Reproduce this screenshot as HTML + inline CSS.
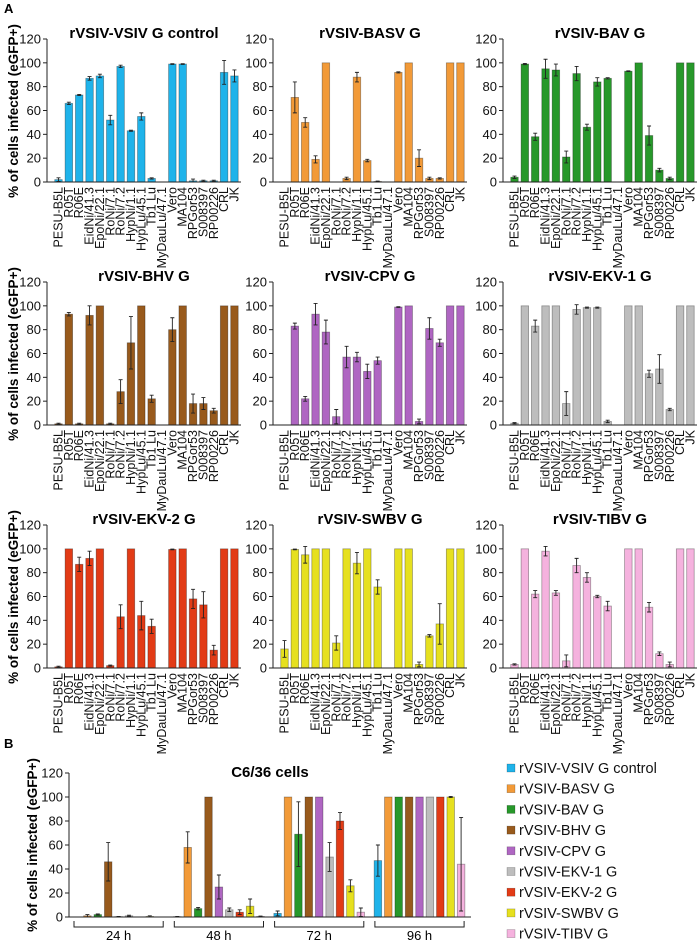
<!DOCTYPE html>
<html><head><meta charset="utf-8"><style>
body{margin:0;background:#fff;}
svg{display:block;font-family:"Liberation Sans",Arial,sans-serif;}
</style></head><body>
<svg id="fig" width="700" height="941" viewBox="0 0 700 941"></svg>
<script>
const categories=["PESU-B5L","R05T","R06E","EidNi/41.3","EpoNi/22.1","RoNi/7.1","RoNi/7.2","HypNi/1.1","HypLu/45.1","Tb1 Lu","MyDauLu/47.1","Vero","MA104","RPGor53","S008397","RP00226","CRL","JK"];
const seriesNames=["rVSIV-VSIV G control","rVSIV-BASV G","rVSIV-BAV G","rVSIV-BHV G","rVSIV-CPV G","rVSIV-EKV-1 G","rVSIV-EKV-2 G","rVSIV-SWBV G","rVSIV-TIBV G"];
const colors=["#1fb3ea","#f29a38","#27982a","#985a1c","#af66c2","#bdbdbd","#e23b16","#e6e01f","#f5b2de"];
const yTicks=[0,20,40,60,80,100,120];
const vsivVals=[2,66,73,87,89,52,97,43,55,3,0,99,99,1,1,1,92,89];
const vsivErr=[1.5,1,0.5,1.5,1.5,4,1,0.5,3,0.5,0,0.3,0.3,1.5,0.5,0.5,10,5];
const basvVals=[0,71,50,19,100,0,3,88,18,0.5,0,92,100,20,3,3,100,100];
const basvErr=[0,13,4,3,0,0,1,4,1,0.3,0,0.5,0,7,1,0.5,0,0];
const bavVals=[4,99,38,95,94,21,91,46,84,87,0,93,100,39,10,3,100,100];
const bavErr=[1,0.5,3,8,5,5,6,2.5,3.5,0.5,0,0.3,0,8,1.5,1,0,0];
const bhvVals=[1,93,1,92,100,1,28,69,100,22,0,80,100,18,18,12,100,100];
const bhvErr=[0.5,1.5,0.5,8,0,0.5,10,22,0,3,0,10,0,8,5,2,0,0];
const cpvVals=[0,83,22,93,78,7,57,57,45,54,0,99,100,3,81,69,100,100];
const cpvErr=[0,2.5,2,9,10,6,9,4,6,3,0,0.3,0,2,9,3,0,0];
const ekv1Vals=[1.5,100,83,100,100,18,97,98.5,98.5,3,0,100,100,43,47,13,100,100];
const ekv1Err=[0.5,0,5,0,0,10,4,0.5,0.5,1,0,0,0,3,12,1,0,0];
const ekv2Vals=[1,100,87,92,100,2,43,100,44,35,0,99.5,100,58,53,15,100,100];
const ekv2Err=[0.5,0,6,6,0,0.5,10,0,12,6,0,0.3,0,8,11,4,0,0];
const swbvVals=[16,99.5,95,100,100,21,100,88,100,68,0,100,100,3,27,37,100,100];
const swbvErr=[7,0.3,7,0,0,6,0,9,0,6,0,0,0,2,1,17,0,0];
const tibvVals=[3,100,62,98,63,6,86,76,60,52,0,100,100,51,12,3,100,100];
const tibvErr=[0.5,0,3,4,2,5,6,4,1,4,0,0,0,4,1.5,2,0,0];
const timeLabels=["24 h","48 h","72 h","96 h"];
const c636Vals=[[0,1,2,46,0.3,1,0,0.5,0],[0.3,58,7,100,25,6,4,9,0.5],[3,100,69,100,100,50,80,26,4],[47,100,100,100,100,100,100,100,44]];
const c636Err=[[0,1,0.5,16,0.2,0.5,0,0.5,0],[0.2,13,1,0,10,1.5,2,6,0.3],[2,0,27,0,0,12,7,5,3.5],[13,0,0,0,0,0,0,0.5,39]];

const NS="http://www.w3.org/2000/svg";
const svg=document.getElementById('fig');
function mk(tag,attrs,parent){const e=document.createElementNS(NS,tag);for(const k in attrs)e.setAttribute(k,attrs[k]);(parent||svg).appendChild(e);return e;}
function txt(s,attrs,parent){const e=mk('text',attrs,parent);e.textContent=s;return e;}

const panelVals=[vsivVals,basvVals,bavVals,bhvVals,cpvVals,ekv1Vals,ekv2Vals,swbvVals,tibvVals];
const panelErr=[vsivErr,basvErr,bavErr,bhvErr,cpvErr,ekv1Err,ekv2Err,swbvErr,tibvErr];
const axisXs=[47,273,503];
const zeroYs=[182,425,668];
const panelTitles=["rVSIV-VSIV G control","rVSIV-BASV G","rVSIV-BAV G","rVSIV-BHV G","rVSIV-CPV G","rVSIV-EKV-1 G","rVSIV-EKV-2 G","rVSIV-SWBV G","rVSIV-TIBV G"];

const la=txt('A',{x:4,y:13,'font-size':13,'font-weight':'bold'});



function drawYAxis(g,ax,y0,span){
  const yAx=v=>y0-v/120*span;
  mk('line',{x1:ax,y1:yAx(120),x2:ax,y2:y0,stroke:'#222','stroke-width':1},g);
  yTicks.forEach(t=>{
    mk('line',{x1:ax-4,y1:yAx(t),x2:ax,y2:yAx(t),stroke:'#222','stroke-width':1},g);
    const tl=txt(String(t),{x:ax-6,y:yAx(t)+4.5,'font-size':13,'text-anchor':'end',fill:'#111'},g);
    
    
  });
  return yAx;
}
function drawBar(g,cx,v,e,yAx,y0,color,w){
  const b=mk('rect',{x:cx-w/2,y:yAx(v),width:w,height:Math.max(0,y0-yAx(v)),fill:color,stroke:'rgba(0,0,0,0.35)','stroke-width':0.8},g);
  
  
  if(e>0){
    const eb=mk('path',{d:`M${cx},${yAx(v+e)}V${yAx(Math.max(0,v-e))}M${cx-2},${yAx(v+e)}H${cx+2}M${cx-2},${yAx(Math.max(0,v-e))}H${cx+2}`,stroke:'#222','stroke-width':0.9,fill:'none'},g);
    
    
  }
}

for(let p=0;p<9;p++){
  const ax=axisXs[p%3], y0=zeroYs[Math.floor(p/3)], span=143;
  const g=mk('g',{});
  
  
  const yAx=drawYAxis(g,ax,y0,span);
  const xAx=i=>ax+11.5+i*10.35;
  const t=txt(panelTitles[p],{x:ax+97,y:y0-span-1,'font-size':15,'font-weight':'bold','text-anchor':'middle'},g);
  
  
  panelVals[p].forEach((v,i)=>drawBar(g,xAx(i),v,panelErr[p][i],yAx,y0,colors[p],7.5));
  mk('line',{x1:ax,y1:y0,x2:ax+194,y2:y0,stroke:'#222','stroke-width':1},g);
  categories.forEach((c,i)=>{
    const x=xAx(i)+4, y=y0+5;
    const cl=txt(c,{x:x,y:y,'font-size':12.5,'text-anchor':'end',transform:`rotate(-90 ${x} ${y})`,fill:'#111'},g);
    
    
  });
  if(p%3===0){
    const cy=y0-71;
    const yt=txt('% of cells infected (eGFP+)',{x:18,y:cy,'font-size':13.5,'font-weight':'bold','text-anchor':'middle',transform:`rotate(-90 18 ${cy})`},g);
    
    
  }
}

/* Panel B */
const lb=txt('B',{x:4,y:748,'font-size':13,'font-weight':'bold'});


const gB=mk('g',{});


const bAx=69,bY0=917,bSpan=144;
const byAx=drawYAxis(gB,bAx,bY0,bSpan);
const bt=txt('C6/36 cells',{x:270,y:777,'font-size':15,'font-weight':'bold','text-anchor':'middle'},gB);


const bxAx=(gi,si)=>bAx+8+gi*100.3+si*10.4;
c636Vals.forEach((grp,gi)=>grp.forEach((v,si)=>drawBar(gB,bxAx(gi,si),v,c636Err[gi][si],byAx,bY0,colors[si],7.5)));
mk('line',{x1:bAx,y1:bY0,x2:471,y2:bY0,stroke:'#222','stroke-width':1},gB);
timeLabels.forEach((l,gi)=>{
  const x1=bxAx(gi,0)-3,x2=bxAx(gi,8)+3;
  const br=mk('path',{d:`M${x1},921V927H${x2}V921`,stroke:'#222','stroke-width':1,fill:'none'},gB);
  
  
  const tl=txt(l,{x:(x1+x2)/2,y:940,'font-size':13,'text-anchor':'middle'},gB);
  
  
});
const byt=txt('% of cells infected (eGFP+)',{x:37,y:845,'font-size':13.5,'font-weight':'bold','text-anchor':'middle',transform:'rotate(-90 37 845)'},gB);



/* Legend */
const gL=mk('g',{});


seriesNames.forEach((n,i)=>{
  const y=768+i*20.7;
  const e=mk('g',{},gL);
  
  
  mk('rect',{x:507,y:y-4,width:8,height:8,fill:colors[i],stroke:'rgba(0,0,0,0.3)','stroke-width':0.6},e);
  txt(n,{x:519,y:y+5,'font-size':14.5,fill:'#111'},e);
});
</script>
</body></html>
